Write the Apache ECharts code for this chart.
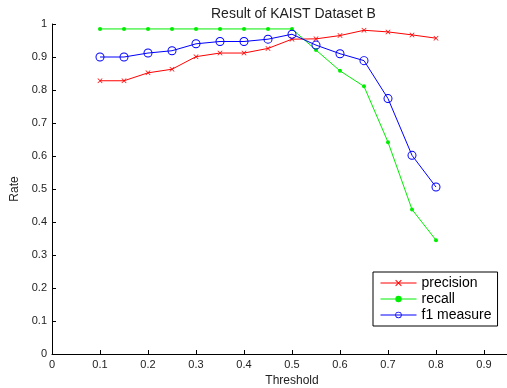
<!DOCTYPE html>
<html>
<head>
<meta charset="utf-8">
<script src="https://cdn.jsdelivr.net/npm/echarts@6/dist/echarts.min.js"></script>
<style>
  html, body { margin: 0; padding: 0; background: #fff; }
  #chart { width: 507px; height: 388px; }
</style>
</head>
<body>
<div id="chart"></div>
<script>
// thresholds on x
const thresholds = [0.1, 0.15, 0.2, 0.25, 0.3, 0.35, 0.4, 0.45, 0.5, 0.55, 0.6, 0.65, 0.7, 0.75, 0.8];
const precision = [0.828, 0.828, 0.852, 0.863, 0.901, 0.912, 0.912, 0.926, 0.954, 0.955, 0.965, 0.981, 0.976, 0.967, 0.957];
const recall = [0.985, 0.985, 0.985, 0.985, 0.985, 0.985, 0.985, 0.985, 0.985, 0.921, 0.858, 0.811, 0.642, 0.438, 0.345];
const f1 = [0.900, 0.900, 0.912, 0.919, 0.940, 0.947, 0.947, 0.954, 0.969, 0.936, 0.910, 0.889, 0.774, 0.602, 0.506];

const font = 'Liberation Sans, Arial, Helvetica, sans-serif';
// matlab style markers: 'x' and an unfilled 'o'
const crossPath = 'path://M0,1L1,0L5,4L9,0L10,1L6,5L10,9L9,10L5,6L1,10L0,9L4,5Z';
const ringPath = 'path://M10,0A10,10 0 1,1 10,20A10,10 0 1,1 10,0Z M10,2.2A7.8,7.8 0 1,0 10,17.8A7.8,7.8 0 1,0 10,2.2Z';

const pairs = (ys) => thresholds.map((x, i) => [x, ys[i]]);

const axisCommon = {
  type: 'value',
  min: 0,
  max: 1,
  interval: 0.1,
  axisLine: { show: true, lineStyle: { color: '#000', width: 1 } },
  axisTick: { show: true, inside: true, length: 4, lineStyle: { color: '#000' } },
  splitLine: { show: false },
  axisLabel: {
    color: '#222',
    fontFamily: font,
    fontSize: 11,
    margin: 5,
    formatter: (v) => String(Math.round(v * 10) / 10),
  },
  nameTextStyle: { color: '#222', fontFamily: font, fontSize: 12 },
};

const chart = echarts.init(document.getElementById('chart'));
chart.setOption({
  backgroundColor: '#fff',
  animation: false,
  title: {
    text: 'Result of KAIST Dataset B',
    left: 206,
    top: 2,
    textStyle: { color: '#222', fontFamily: font, fontSize: 14, fontWeight: 'normal' },
  },
  grid: { left: 52, top: 24, width: 480, height: 330, outerBoundsMode: 'none', containLabel: false },
  xAxis: {
    ...axisCommon,
    name: 'Threshold',
    nameLocation: 'middle',
    nameGap: 20,
  },
  yAxis: {
    ...axisCommon,
    name: 'Rate',
    nameLocation: 'middle',
    nameGap: 29,
  },
  legend: {
    orient: 'vertical',
    left: 373,
    top: 272,
    backgroundColor: '#fff',
    borderColor: '#000',
    borderWidth: 1,
    borderRadius: 0,
    padding: [3, 6, 3, 7],
    itemWidth: 36,
    itemHeight: 8,
    itemGap: 0,
    lineStyle: { width: 1 },
    textStyle: { color: '#000', fontFamily: font, fontSize: 14, lineHeight: 16 },
    data: ['precision', 'recall', 'f1 measure'],
  },
  series: [
    {
      name: 'precision',
      type: 'line',
      data: pairs(precision),
      symbol: crossPath,
      symbolSize: 5,
      lineStyle: { color: '#ff0000', width: 1 },
      itemStyle: { color: '#ff0000' },
    },
    {
      name: 'recall',
      type: 'line',
      data: pairs(recall),
      symbol: 'circle',
      symbolSize: 4,
      lineStyle: { color: '#00ee00', width: 1 },
      itemStyle: { color: '#00ee00' },
    },
    {
      name: 'f1 measure',
      type: 'line',
      data: pairs(f1),
      symbol: ringPath,
      symbolSize: 9,
      lineStyle: { color: '#0000ff', width: 1 },
      itemStyle: { color: '#0000ff' },
    },
  ],
});
</script>
</body>
</html>
